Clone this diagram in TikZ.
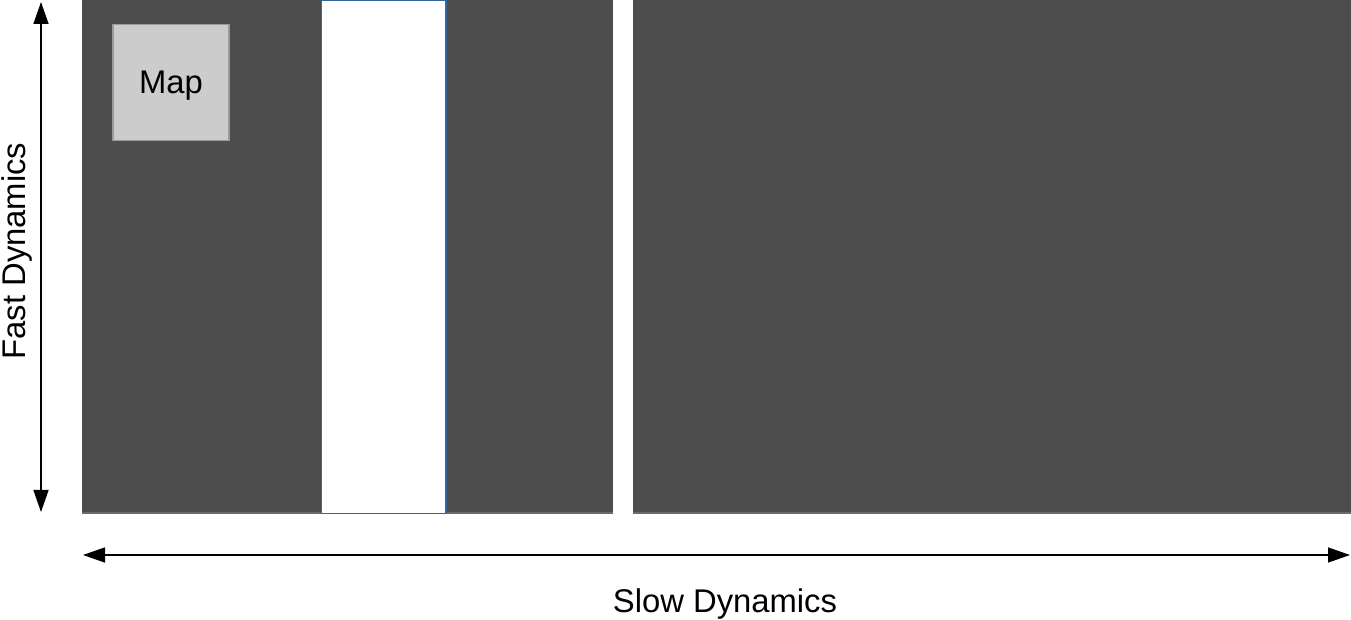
\documentclass[tikz,border=0pt]{standalone}
\usepackage{fontspec}
\setmainfont{Liberation Sans}
\usetikzlibrary{arrows.meta}
\definecolor{panelgray}{HTML}{4D4D4D}
\definecolor{edgegray}{HTML}{6A6A6A}
\definecolor{mapgray}{HTML}{CCCCCC}
\definecolor{mapedge}{HTML}{9A9A9A}
\definecolor{slotblue}{HTML}{3465A4}
\tikzset{
  panel/.style={fill=panelgray},
  slot/.style={fill=white,draw=slotblue,line width=0.75pt},
  gap/.style={fill=white},
  mapbox/.style={draw=mapedge,fill=mapgray,line width=0.6pt,minimum size=58pt,inner sep=0pt,text depth=0pt,font=\fontsize{16.4}{19}\selectfont},
  dyn/.style={line width=0.75pt,{Triangle[length=11pt,width=7.5pt]}-{Triangle[length=11pt,width=7.5pt]}},
  axlab/.style={font=\fontsize{16.4}{19}\selectfont},
}
\begin{document}
\begin{tikzpicture}[x=0.5pt,y=-0.5pt]
  \useasboundingbox (0,0) rectangle (1351,620);
  % dark panel
  \fill[panel] (82,0) rectangle (1351,514);
  \draw[edgegray,line width=1pt] (82,513) -- (1351,513);
  % slots
  \filldraw[slot] (321.5,0.75) rectangle (446,513.5);
  \fill[gap] (613,0) rectangle (633,514);
  \node[mapbox] (map) at (171,82.5) {Map};
  % axes
  \coordinate (fasttop) at (41,2);
  \coordinate (fastbot) at (41,512);
  \coordinate (slowleft) at (83,555);
  \coordinate (slowright) at (1350,555);
  \draw[dyn] (fasttop) -- (fastbot);
  \draw[dyn] (slowleft) -- (slowright);
  \node[axlab,rotate=90] (fast) at (17,251) {Fast Dynamics};
  \node[axlab] (slow) at (725,604) {Slow Dynamics};
\end{tikzpicture}
\end{document}
